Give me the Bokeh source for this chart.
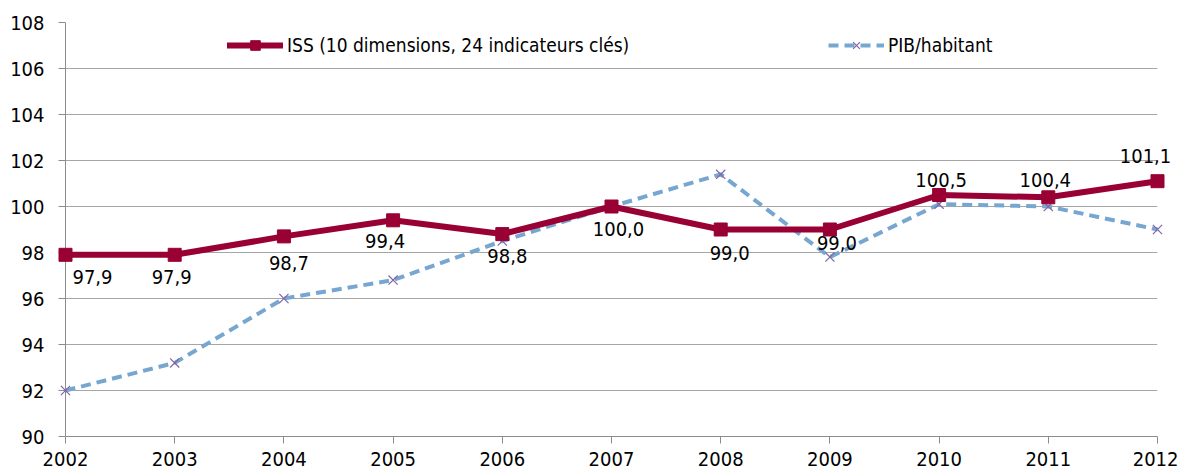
from bokeh.plotting import figure
from bokeh.models import (ColumnDataSource, Range1d, FixedTicker, Legend, LegendItem)
from bokeh.core.properties import value
from bokeh.embed import file_html
from bokeh.resources import INLINE

years = [2002, 2003, 2004, 2005, 2006, 2007, 2008, 2009, 2010, 2011, 2012]
iss = [97.9, 97.9, 98.7, 99.4, 98.8, 100.0, 99.0, 99.0, 100.5, 100.4, 101.1]
pib = [92.0, 93.2, 96.0, 96.8, 98.5, 100.0, 101.4, 97.8, 100.1, 100.0, 99.0]
iss_labels = ["97,9", "97,9", "98,7", "99,4", "98,8", "100,0", "99,0", "99,0", "100,5", "100,4", "101,1"]
y_ticks = [90, 92, 94, 96, 98, 100, 102, 104, 106, 108]

# label placement offsets (screen px, +dy = downward)
lab_dx = [27, -3, 5, -8, 5, 7, 9, 7, 2, -3, -12]
lab_dy = [22, 22, 27, 21, 22, 22, 23, 13, -15, -17, -25]

FONT = "DejaVu Sans Condensed"
ISS_COLOR = "#990033"
PIB_COLOR = "#77A7D0"
X_COLOR = "#8064A8"
GRID = "#A6A6A6"

p = figure(width=1178, height=472, output_backend="svg", toolbar_location=None,
           x_range=Range1d(2002, 2012), y_range=Range1d(90, 108),
           min_border_left=65, min_border_right=21, min_border_top=22, min_border_bottom=36)
p.outline_line_color = None
p.background_fill_color = "white"

p.xgrid.grid_line_color = None
p.ygrid.grid_line_color = GRID
p.ygrid.grid_line_width = 1
p.ygrid.ticker = FixedTicker(ticks=y_ticks)

p.yaxis.ticker = FixedTicker(ticks=y_ticks)
p.xaxis.ticker = FixedTicker(ticks=years)
for ax in (p.xaxis[0], p.yaxis[0]):
    ax.axis_line_color = "#8C8C8C"
    ax.major_tick_line_color = "#8C8C8C"
    ax.major_tick_out = 7
    ax.major_tick_in = 0
    ax.minor_tick_line_color = None
    ax.major_label_text_font = FONT
    ax.major_label_text_font_size = "20px"
    ax.major_label_text_color = "black"
p.yaxis.major_label_standoff = 14
p.xaxis.major_label_standoff = 8

src = ColumnDataSource(dict(x=years, iss=iss, pib=pib, lab=iss_labels, dx=lab_dx, dy=lab_dy))

pib_line = p.line("x", "pib", source=src, line_color=PIB_COLOR, line_width=4, line_dash="10 6")
pib_mark = p.scatter("x", "pib", source=src, marker="x", size=13, line_color=X_COLOR, line_width=1.2)
iss_line = p.line("x", "iss", source=src, line_color=ISS_COLOR, line_width=6, line_join="round", line_cap="round")
iss_mark = p.scatter("x", "iss", source=src, marker="square", size=13, fill_color=ISS_COLOR, line_color=ISS_COLOR)
for r in (pib_line, pib_mark, iss_line, iss_mark):
    r.level = "overlay"

lbl = p.text("x", "iss", text="lab", source=src, x_offset="dx", y_offset="dy",
             text_font=value(FONT), text_font_size="20px", text_color="black",
             text_align="center", text_baseline="middle")
lbl.level = "overlay"

leg1 = Legend(items=[LegendItem(label="ISS (10 dimensions, 24 indicateurs clés)", renderers=[iss_line, iss_mark])],
              location=(162, 379), orientation="horizontal")
leg2 = Legend(items=[LegendItem(label="PIB/habitant", renderers=[pib_line, pib_mark])],
              location=(763, 379), orientation="horizontal")
for lg in (leg1, leg2):
    lg.padding = 0
    lg.margin = 0
    lg.border_line_color = None
    lg.background_fill_alpha = 0
    lg.glyph_width = 56
    lg.glyph_height = 24
    lg.label_standoff = 4
    lg.label_text_font = FONT
    lg.label_text_font_size = "19px"
    lg.label_text_color = "black"
    lg.label_height = 24
    p.add_layout(lg, "center")

open("out.html", "w").write(file_html(p, INLINE))
